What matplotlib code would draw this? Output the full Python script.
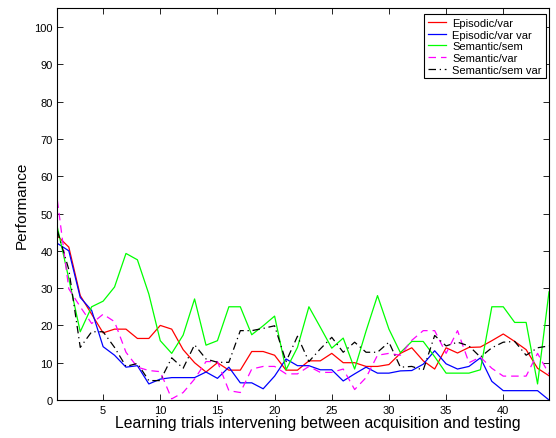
import matplotlib
matplotlib.use("Agg")
import matplotlib.pyplot as plt
import numpy as np

plt.rcParams['font.family'] = ['Liberation Sans', 'DejaVu Sans']

trials = list(range(1, 45))

episodic_var = [44, 41, 28, 23, 18, 19, 19, 16.5, 16.5, 20, 19, 13.5, 10, 7.5, 10,
                8, 8, 13, 13, 12, 8, 8, 10.5, 10.5, 12.5, 10, 10, 9, 9, 9.5,
                12.5, 14, 10.5, 8.3, 14, 12.6, 14.1, 14.2, 15.9, 17.7, 15.7, 13.5, 8.5, 6.5]
episodic_varvar = [42, 40, 27.5, 24, 14.3, 12, 8.8, 9.2, 4.3, 5.6, 6, 6, 6, 7.5, 5.8,
                   8.8, 4.6, 4.6, 3, 6.4, 11, 9.2, 9.2, 8.1, 8.1, 5.1, 7, 8.8, 7.2, 7.2,
                   7.8, 7.9, 9.6, 13.2, 9.7, 8.3, 9, 11.3, 5, 2.5, 2.5, 2.5, 2.5, 0]
semantic_sem = [46.3, 32.5, 18.3, 25, 26.5, 30.3, 39.3, 37.6, 28.4, 15.9, 12.5, 17.4, 27.1, 14.7, 15.9,
                25, 25, 17.5, 19.9, 22.5, 8.1, 14.1, 25, 19.5, 13.9, 16.6, 8.3, 18.5, 28, 19,
                12.7, 15.7, 15.7, 11.6, 7.2, 7.2, 7.2, 8.1, 25, 25, 20.8, 20.8, 4.3, 29]
semantic_var = [53.5, 29.8, 25, 20.5, 23, 21, 12.8, 8.8, 7.9, 7.6, 0.3, 2, 5.6, 10.3, 10.3,
                2.5, 2, 8.3, 9, 9, 7, 7, 9, 7.4, 7.4, 8.3, 2.8, 6, 12, 12.5,
                12, 16, 18.6, 18.6, 12.5, 18.6, 10, 11.5, 8.5, 6.4, 6.4, 6.4, 12.5, 7]
semantic_semvar = [45.4, 35, 14.1, 18.3, 18.3, 14.1, 9, 9.8, 5.2, 5.2, 11.3, 8.5, 14.8, 11, 10.1,
                   10.1, 18.6, 18.6, 19.2, 19.9, 10.3, 17.1, 10.3, 13.7, 16.8, 12.8, 15.5, 12.8, 12.8, 15.5,
                   8.8, 9, 8, 17.3, 14.5, 15.5, 14.5, 11.5, 14, 15.5, 15.7, 12, 14, 14.5]

labels = ['Episodic/var', 'Episodic/var var', 'Semantic/sem', 'Semantic/var', 'Semantic/sem var']
xticks = [5, 10, 15, 20, 25, 30, 35, 40]
yticks = [0, 10, 20, 30, 40, 50, 60, 70, 80, 90, 100]

fig = plt.figure(figsize=(5.56, 4.39), dpi=100)
ax = fig.add_axes([0.1032, 0.0866, 0.8842, 0.8918])

lw = 0.9
ax.plot(trials, episodic_var, color=(1, 0, 0), lw=lw, label=labels[0])
ax.plot(trials, episodic_varvar, color=(0, 0, 1), lw=lw, label=labels[1])
ax.plot(trials, semantic_sem, color=(0, 1, 0), lw=lw, label=labels[2])
ax.plot(trials, semantic_var, color=(1, 0, 1), lw=lw, ls=(0, (6, 4)), label=labels[3])
ax.plot(trials, semantic_semvar, color='black', lw=lw, ls=(0, (6, 3, 1, 3)), label=labels[4])

ax.set_xlim(1, 44)
ax.set_ylim(0, 105)
ax.set_xticks(xticks)
ax.set_yticks(yticks)
ax.tick_params(direction='in', top=True, right=True, labelsize=8, length=4, width=0.6)
for s in ax.spines.values():
    s.set_linewidth(0.8)

ax.set_xlabel('Learning trials intervening between acquisition and testing', fontsize=11.3, labelpad=0)
ax.xaxis.label.set_x(0.53)
ax.set_ylabel('Performance', fontsize=11, labelpad=4)

leg = ax.legend(loc='upper right', bbox_to_anchor=(0.9935, 0.986), fontsize=8, fancybox=False,
                framealpha=1, edgecolor='black', handlelength=1.6, labelspacing=0.15,
                borderaxespad=0.0, borderpad=0.35, handletextpad=0.6)
leg.get_frame().set_linewidth(0.8)

fig.savefig('out.png', dpi=100)
